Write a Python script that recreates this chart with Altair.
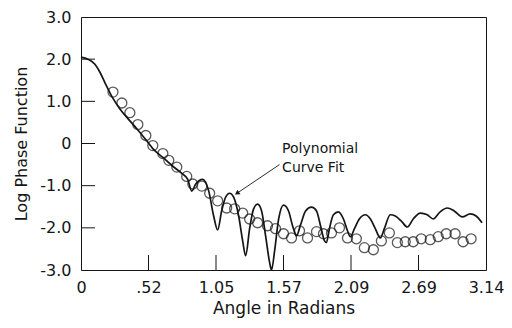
import altair as alt
import pandas as pd

# Observed points (open circles): angle in radians, log phase function
PT_X = [0.248, 0.317, 0.379, 0.441, 0.503, 0.557, 0.635, 0.681, 0.743, 0.820,
        0.867, 0.937, 0.998, 1.060, 1.130, 1.192, 1.254, 1.308, 1.370, 1.447,
        1.509, 1.571, 1.633, 1.695, 1.757, 1.827, 1.881, 1.943, 2.005, 2.067,
        2.136, 2.198, 2.268, 2.330, 2.392, 2.454, 2.515, 2.577, 2.639, 2.709,
        2.771, 2.833, 2.902, 2.964, 3.026]
PT_Y = [1.22, 0.96, 0.73, 0.45, 0.19, -0.05, -0.24, -0.40, -0.56, -0.78,
        -0.96, -1.01, -1.18, -1.36, -1.53, -1.55, -1.65, -1.79, -1.88, -1.95,
        -2.02, -2.14, -2.24, -2.07, -2.24, -2.09, -2.14, -2.12, -2.00, -2.24,
        -2.26, -2.47, -2.52, -2.31, -2.12, -2.35, -2.33, -2.33, -2.26, -2.28,
        -2.21, -2.14, -2.14, -2.33, -2.26]

# Polynomial curve fit (solid line)
CV_X = [0.000, 0.054, 0.108, 0.147, 0.186, 0.240, 0.302, 0.364, 0.433, 0.495,
        0.557, 0.635, 0.712, 0.782, 0.828, 0.859, 0.890, 0.944, 0.991, 1.029,
        1.060, 1.091, 1.122, 1.153, 1.184, 1.223, 1.254, 1.277, 1.308, 1.339,
        1.370, 1.401, 1.432, 1.463, 1.478, 1.502, 1.533, 1.571, 1.610, 1.641,
        1.672, 1.703, 1.742, 1.788, 1.827, 1.858, 1.889, 1.904, 1.927, 1.958,
        1.997, 2.036, 2.067, 2.090, 2.121, 2.159, 2.206, 2.245, 2.283, 2.322,
        2.353, 2.399, 2.438, 2.485, 2.531, 2.577, 2.632, 2.686, 2.732, 2.786,
        2.841, 2.895, 2.957, 3.019, 3.065, 3.111]
CV_Y = [2.05, 2.00, 1.88, 1.69, 1.44, 1.11, 0.82, 0.59, 0.35, 0.12,
        -0.12, -0.33, -0.54, -0.71, -0.85, -1.13, -0.96, -0.85, -1.13, -1.72,
        -2.05, -1.60, -1.27, -1.18, -1.27, -1.72, -2.31, -2.66, -2.02, -1.55,
        -1.44, -1.60, -2.19, -2.82, -3.00, -2.54, -1.79, -1.46, -1.60, -1.95,
        -2.19, -1.93, -1.60, -1.51, -1.60, -1.95, -2.31, -2.35, -2.02, -1.69,
        -1.62, -1.79, -2.07, -2.21, -2.02, -1.79, -1.69, -1.79, -2.02, -2.24,
        -2.02, -1.69, -1.72, -1.84, -1.98, -1.79, -1.65, -1.69, -1.79, -1.62,
        -1.53, -1.60, -1.74, -1.67, -1.72, -1.88]

X_TICKS = [0, 0.5236, 1.0472, 1.5708, 2.0944, 2.618, 3.1416]
X_LABELS = ["0", ".52", "1.05", "1.57", "2.09", "2.69", "3.14"]
X_INNER = [0.5236, 1.0472, 1.5708, 2.0944, 2.618]
Y_TICKS = [3, 2, 1, 0, -1, -2, -3]
Y_LABELS = ["3.0", "2.0", "1.0", "0", "-1.0", "-2.0", "-3.0"]
Y_INNER = [2, 1, 0, -1, -2]

# annotation
ANN_TEXT = ["Polynomial", "Curve Fit"]
ANN_X = [1.56, 1.56]
ANN_Y = [-0.14, -0.57]
ARROW_X = [1.54, 1.215]
ARROW_Y = [-0.50, -1.17]

FONT = "DejaVu Sans"
INK = "#151515"
W, H = 405, 253

pts = pd.DataFrame({"x": PT_X, "y": PT_Y})
cv = pd.DataFrame({"x": CV_X, "y": CV_Y})
ann = pd.DataFrame({"x": ANN_X, "y": ANN_Y, "t": ANN_TEXT})
arr = pd.DataFrame({"x": [ARROW_X[0]], "y": [ARROW_Y[0]], "x2": [ARROW_X[1]], "y2": [ARROW_Y[1]]})
head = pd.DataFrame({"x": [ARROW_X[1]], "y": [ARROW_Y[1]]})
xt = pd.DataFrame({"x": X_INNER})
yt = pd.DataFrame({"y": Y_INNER})

def lab_expr(ticks, labels):
    parts = []
    for t, l in zip(ticks, labels):
        parts.append(f"abs(datum.value - ({t})) < 0.001 ? '{l}'")
    return " : ".join(parts) + " : ''"

xscale = alt.Scale(domain=[0, 3.1416], nice=False, zero=False)
yscale = alt.Scale(domain=[-3, 3], nice=False, zero=False)

xaxis = alt.Axis(values=X_TICKS, labelExpr=lab_expr(X_TICKS, X_LABELS), title="Angle in Radians",
                 ticks=False, domain=False, grid=False,
                 labelFont=FONT, labelFontSize=16, labelColor=INK, labelPadding=9,
                 labelOverlap=False, labelFlush=False, labelBound=False,
                 titleFont=FONT, titleFontSize=17, titleFontWeight="normal", titleColor=INK,
                 titlePadding=5)
yaxis = alt.Axis(values=Y_TICKS, labelExpr=lab_expr(Y_TICKS, Y_LABELS), title="Log Phase Function",
                 ticks=False, domain=False, grid=False,
                 labelFont=FONT, labelFontSize=16, labelColor=INK, labelPadding=10,
                 labelOverlap=False, labelFlush=False, labelBound=False,
                 titleFont=FONT, titleFontSize=16, titleFontWeight="normal", titleColor=INK,
                 titlePadding=10)

line = alt.Chart(cv).mark_line(color=INK, strokeWidth=1.7, interpolate="monotone").encode(
    x=alt.X("x:Q", scale=xscale, axis=xaxis),
    y=alt.Y("y:Q", scale=yscale, axis=yaxis),
)
points = alt.Chart(pts).mark_point(shape="circle", filled=False, color=INK, size=100, strokeWidth=1.3).encode(
    x=alt.X("x:Q", scale=xscale), y=alt.Y("y:Q", scale=yscale)
)
text = alt.Chart(ann).mark_text(font=FONT, fontSize=14, color=INK, align="left", baseline="middle").encode(
    x=alt.X("x:Q", scale=xscale), y=alt.Y("y:Q", scale=yscale), text="t:N"
)
arrow = alt.Chart(arr).mark_rule(color=INK, strokeWidth=0.9).encode(
    x=alt.X("x:Q", scale=xscale), y=alt.Y("y:Q", scale=yscale), x2="x2:Q", y2="y2:Q"
)
arrowhead = alt.Chart(head).mark_point(shape="triangle", filled=True, color=INK, size=30, angle=236, opacity=1).encode(
    x=alt.X("x:Q", scale=xscale), y=alt.Y("y:Q", scale=yscale)
)
xticks = alt.Chart(xt).mark_rule(color=INK, strokeWidth=1).encode(
    x=alt.X("x:Q", scale=xscale), y=alt.value(H), y2=alt.value(H - 15)
)
yticks = alt.Chart(yt).mark_rule(color=INK, strokeWidth=1).encode(
    y=alt.Y("y:Q", scale=yscale), x=alt.value(0), x2=alt.value(14)
)

chart = alt.layer(line, points, arrow, arrowhead, text, xticks, yticks).properties(
    width=W, height=H,
    autosize=alt.AutoSizeParams(type="none"),
    padding={"left": 73, "top": 9, "right": 18, "bottom": 50},
    background="white",
).configure_view(stroke=INK, strokeWidth=1)

chart.save("out.html", embed_options={"renderer": "svg", "actions": False})
